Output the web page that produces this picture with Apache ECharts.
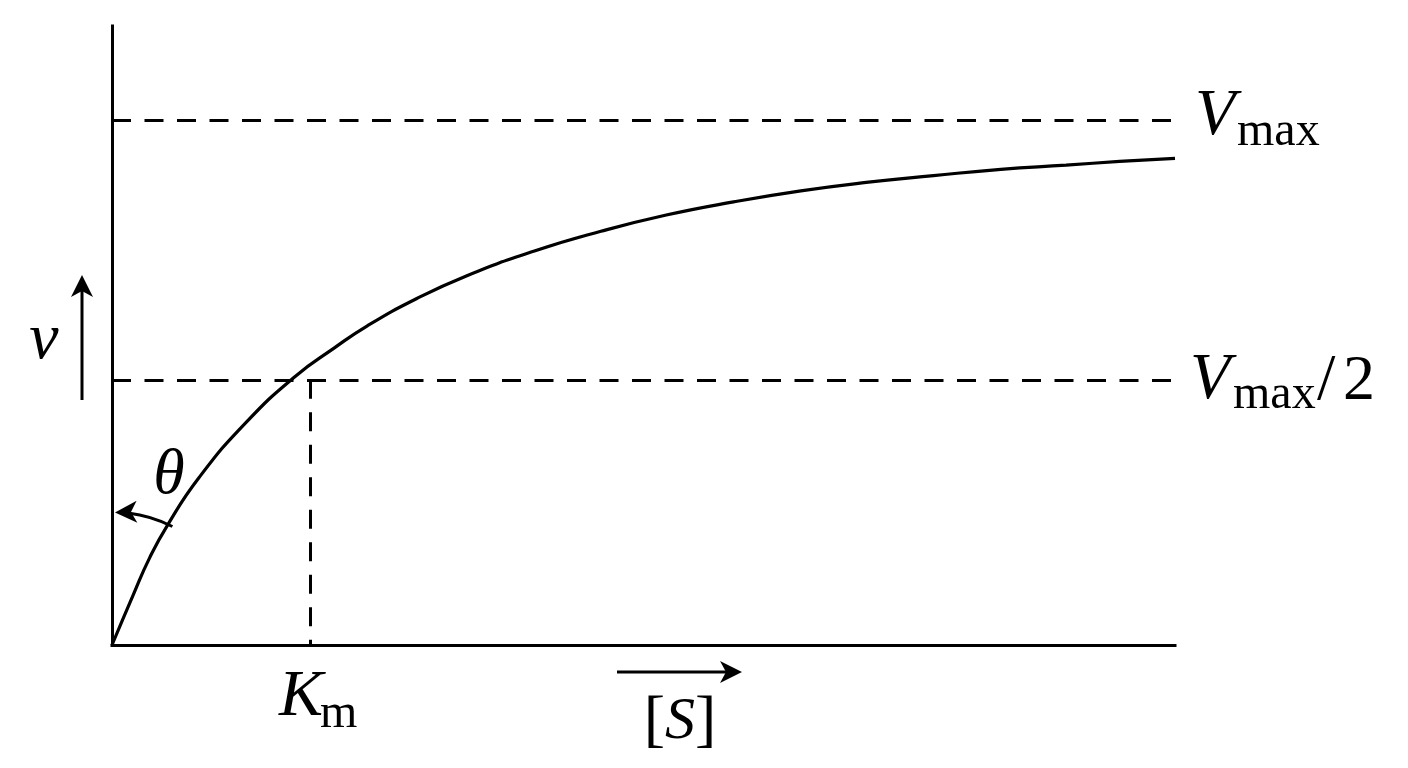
<!DOCTYPE html>
<html>
<head>
<meta charset="utf-8">
<title>Michaelis-Menten</title>
<script src="https://cdn.jsdelivr.net/npm/echarts@6/dist/echarts.min.js"></script>
<style>
  html, body { margin: 0; padding: 0; background: #fff; }
  #chart { width: 1408px; height: 768px; }
</style>
</head>
<body>
<div id="chart"></div>
<script>
// substrate concentration [S], in units of Km
const sValues = [0, 0.11, 0.19, 0.28, 0.44, 0.68, 0.93, 1.12, 1.29, 1.54, 1.79, 2.13, 2.47, 2.80, 3.14, 3.48, 3.81, 4.15, 4.49, 4.82, 5.09, 5.37];
// reaction velocity v, in % of Vmax
const vValues = [0, 9.8, 16.6, 22.8, 31.9, 42.5, 51.3, 56.5, 60.8, 66.0, 70.3, 75.0, 78.8, 81.9, 84.4, 86.5, 88.1, 89.4, 90.6, 91.4, 92.1, 92.7];
const vMax = 100;
const vHalf = 50.5;
const km = 1;
const sMax = 5.37;
const vTop = 117.9;

const ink = "#000";
const serif = "\"Liberation Serif\"";
const dash = [19, 13.5];

const chart = echarts.init(document.getElementById("chart"));

const hiddenAxis = (max) => ({
  type: "value",
  min: 0,
  max: max,
  axisLine: { lineStyle: { color: ink, width: 3, cap: "square" }},
  axisTick: { show: false },
  axisLabel: { show: false },
  splitLine: { show: false }
});

chart.setOption({
  animation: false,
  backgroundColor: "#fff",
  grid: { left: 112, right: 233, top: 26, bottom: 123 },
  xAxis: hiddenAxis(sMax),
  yAxis: hiddenAxis(vTop),
  series: [{
    type: "line",
    data: sValues.map((s, i) => [s, vValues[i]]),
    symbol: "none",
    smooth: 0.5,
    lineStyle: { color: ink, width: 3.2 },
    markLine: {
      silent: true,
      symbol: ["none", "none"],
      label: { show: false },
      lineStyle: { color: ink, width: 3, type: dash },
      data: [
        { yAxis: vMax },
        { yAxis: vHalf },
        [{ coord: [km, vHalf] }, { coord: [km, 0] }]
      ]
    }
  }]
});

const at = (s, v) => chart.convertToPixel({ gridIndex: 0 }, [s, v]);
const [x0, y0] = at(0, 0);
const [xEnd, yMax] = at(sMax, vMax);
const yHalf = at(0, vHalf)[1];
const xKm = at(km, 0)[0];

function label(text, x, y, size, italic, align) {
  return {
    type: "text", x: x, y: y, silent: true,
    style: {
      text: text,
      font: (italic ? "italic " : "") + size + "px " + serif,
      fill: ink,
      align: align || "left",
      verticalAlign: "middle"
    }
  };
}

// stealth style arrow head, tip at (tx, ty), pointing along angle
function arrowHead(tx, ty, angle) {
  const len = 22, half = 11, notch = 6;
  const c = Math.cos(angle), s = Math.sin(angle);
  const p = (a, b) => [tx - a * c - b * s, ty - a * s + b * c];
  return {
    type: "polygon", silent: true,
    shape: { points: [p(0, 0), p(len, half), p(len - notch, 0), p(len, -half)] },
    style: { fill: ink }
  };
}

function segment(x1, y1, x2, y2) {
  return {
    type: "line", silent: true,
    shape: { x1: x1, y1: y1, x2: x2, y2: y2 },
    style: { stroke: ink, lineWidth: 3 }
  };
}

const deg = Math.PI / 180;
const arcR = 133;

chart.setOption({
  graphic: [
    // Vmax
    label("V", xEnd + 20, yMax - 3, 66, true),
    label("max", xEnd + 62, yMax + 12, 48, false),
    // Vmax/2
    label("V", xEnd + 15, yHalf + 1, 66, true),
    label("max", xEnd + 58, yHalf + 16, 48, false),
    label("/", xEnd + 142, yHalf + 2, 66, false),
    label("2", xEnd + 168, yHalf + 2, 64, false),
    // Km
    label("K", xKm - 31, y0 + 53, 66, true),
    label("m", xKm + 10, y0 + 69, 48, false),
    // [S]
    {
      type: "text", x: 680, y: y0 + 77, silent: true,
      style: {
        text: "{r|[}{i|S}{r|]}",
        align: "center", verticalAlign: "middle", fill: ink,
        rich: {
          r: { font: "64px " + serif, fill: ink },
          i: { font: "italic 60px " + serif, fill: ink }
        }
      }
    },
    segment(617, 672, 728, 672),
    arrowHead(742, 672, 0),
    // v
    label("v", 44, 341, 66, true, "center"),
    segment(x0 - 30, 400, x0 - 30, 290),
    arrowHead(x0 - 30, 275, -90 * deg),
    // theta
    label("\u03b8", 169, 476, 64, true, "center"),
    {
      type: "arc", silent: true,
      shape: { cx: x0, cy: y0, r: arcR, startAngle: -83 * deg, endAngle: -63 * deg, clockwise: true },
      style: { stroke: ink, lineWidth: 3, fill: null }
    },
    arrowHead(x0 + 3, y0 - arcR + 0.5, 178 * deg)
  ]
});
</script>
</body>
</html>
